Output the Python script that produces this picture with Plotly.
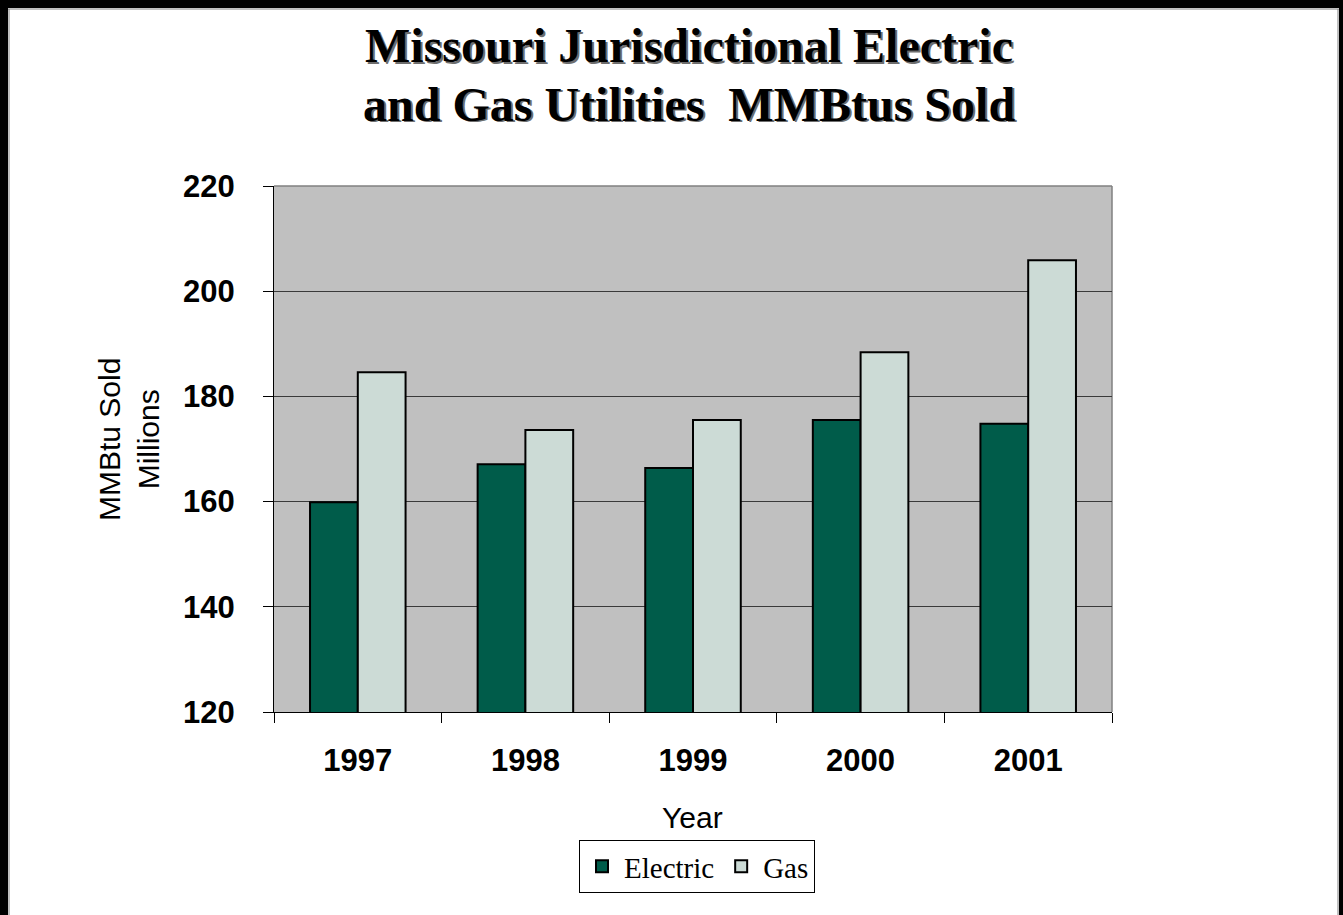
import plotly.graph_objects as go

# Annual MMBtus sold (millions) by Missouri jurisdictional utilities
years = ["1997", "1998", "1999", "2000", "2001"]
electric = [159.9, 167.1, 166.4, 175.5, 174.8]
gas = [184.6, 173.6, 175.5, 188.4, 205.9]
y_ticks = [120, 140, 160, 180, 200, 220]

W, H = 1343, 915
L, R, T, B = 274, 1112, 186, 712  # plot area in pixels


def px_x(p):
    return (p - L) / (R - L)


def px_y(p):
    return (B - p) / (B - T)


fig = go.Figure()
fig.add_trace(go.Bar(
    name="Electric", x=years, y=electric,
    marker=dict(color="#005C4A", line=dict(color="#000000", width=2)),
))
fig.add_trace(go.Bar(
    name="Gas", x=years, y=gas,
    marker=dict(color="#CCDBD6", line=dict(color="#000000", width=2)),
))

shapes = []
# page frame: heavy black band with thin grey inner line
for x0, y0, x1, y1 in [(0, 0, W, 8), (0, 0, 8, H), (1339, 0, W, H)]:
    shapes.append(dict(type="rect", xref="paper", yref="paper",
                       x0=px_x(x0), x1=px_x(x1), y0=px_y(y0), y1=px_y(y1),
                       fillcolor="#000000", line=dict(width=0), layer="above"))
for x0, y0, x1, y1 in [(8, 9, 1339, 9), (9, 9, 9, H), (1338, 9, 1338, H)]:
    shapes.append(dict(type="line", xref="paper", yref="paper",
                       x0=px_x(x0), x1=px_x(x1), y0=px_y(y0), y1=px_y(y1),
                       line=dict(color="#808080", width=1), layer="above"))
# grey top/right edges of the plot area
shapes.append(dict(type="line", xref="paper", yref="paper", x0=0, x1=1, y0=1, y1=1,
                   line=dict(color="#808080", width=1.5), layer="below"))
shapes.append(dict(type="line", xref="paper", yref="paper", x0=1, x1=1, y0=0, y1=1,
                   line=dict(color="#808080", width=1.5), layer="below"))

title_font = dict(family="Liberation Serif", size=48, color="#000000")
shadow_font = dict(family="Liberation Serif", size=48, color="#6e6e6e")
annotations = []
for text, yc in [("Missouri Jurisdictional Electric", 46),
                 ("and Gas Utilities  MMBtus Sold", 104)]:
    annotations.append(dict(text=f"<b>{text}</b>", xref="paper", yref="paper",
                            x=px_x(689), y=px_y(yc), xshift=1.5, yshift=-1.5,
                            showarrow=False, font=shadow_font,
                            xanchor="center", yanchor="middle"))
    annotations.append(dict(text=f"<b>{text}</b>", xref="paper", yref="paper",
                            x=px_x(689), y=px_y(yc),
                            showarrow=False, font=title_font,
                            xanchor="center", yanchor="middle"))

axis_font = dict(family="Liberation Sans, Arial", size=30, color="#000000")
annotations.append(dict(text="MMBtu Sold<br>Millions", xref="paper", yref="paper",
                        x=px_x(129), y=px_y(440), textangle=-90, showarrow=False,
                        font=axis_font, xanchor="center", yanchor="middle"))
annotations.append(dict(text="Year", xref="paper", yref="paper",
                        x=px_x(692), y=px_y(817), showarrow=False,
                        font=axis_font, xanchor="center", yanchor="middle"))

fig.update_layout(
    width=W, height=H,
    margin=dict(l=L, r=W - R, t=T, b=H - B, pad=0),
    paper_bgcolor="#FFFFFF",
    plot_bgcolor="#C0C0C0",
    barmode="group",
    bargap=0.43,
    bargroupgap=0,
    showlegend=True,
    legend=dict(
        orientation="h", x=px_x(697), y=px_y(840), xanchor="center", yanchor="top",
        font=dict(family="Liberation Serif", size=29, color="#000000"),
        bgcolor="#FFFFFF", bordercolor="#000000", borderwidth=1,
        itemsizing="constant", itemwidth=34,
    ),
    shapes=shapes,
    annotations=annotations,
    xaxis=dict(
        type="category", range=[-0.5, 4.5],
        showline=True, linecolor="#000000", linewidth=1,
        ticks="outside", tickson="boundaries", ticklen=10, tickcolor="#000000",
        tickfont=dict(family="Liberation Sans, Arial", size=31, color="#000000", weight="bold"),
        ticklabelstandoff=21,
        showgrid=False, zeroline=False,
    ),
    yaxis=dict(
        range=[120, 220], tickvals=y_ticks, ticktext=[str(v) for v in y_ticks],
        showline=True, linecolor="#000000", linewidth=1,
        ticks="outside", ticklen=10, tickcolor="#000000",
        tickfont=dict(family="Liberation Sans, Arial", size=31, color="#000000", weight="bold"),
        ticklabelstandoff=22,
        showgrid=True, gridcolor="#3a3a3a", gridwidth=1,
        zeroline=False,
    ),
)

fig.write_html("out.html")
